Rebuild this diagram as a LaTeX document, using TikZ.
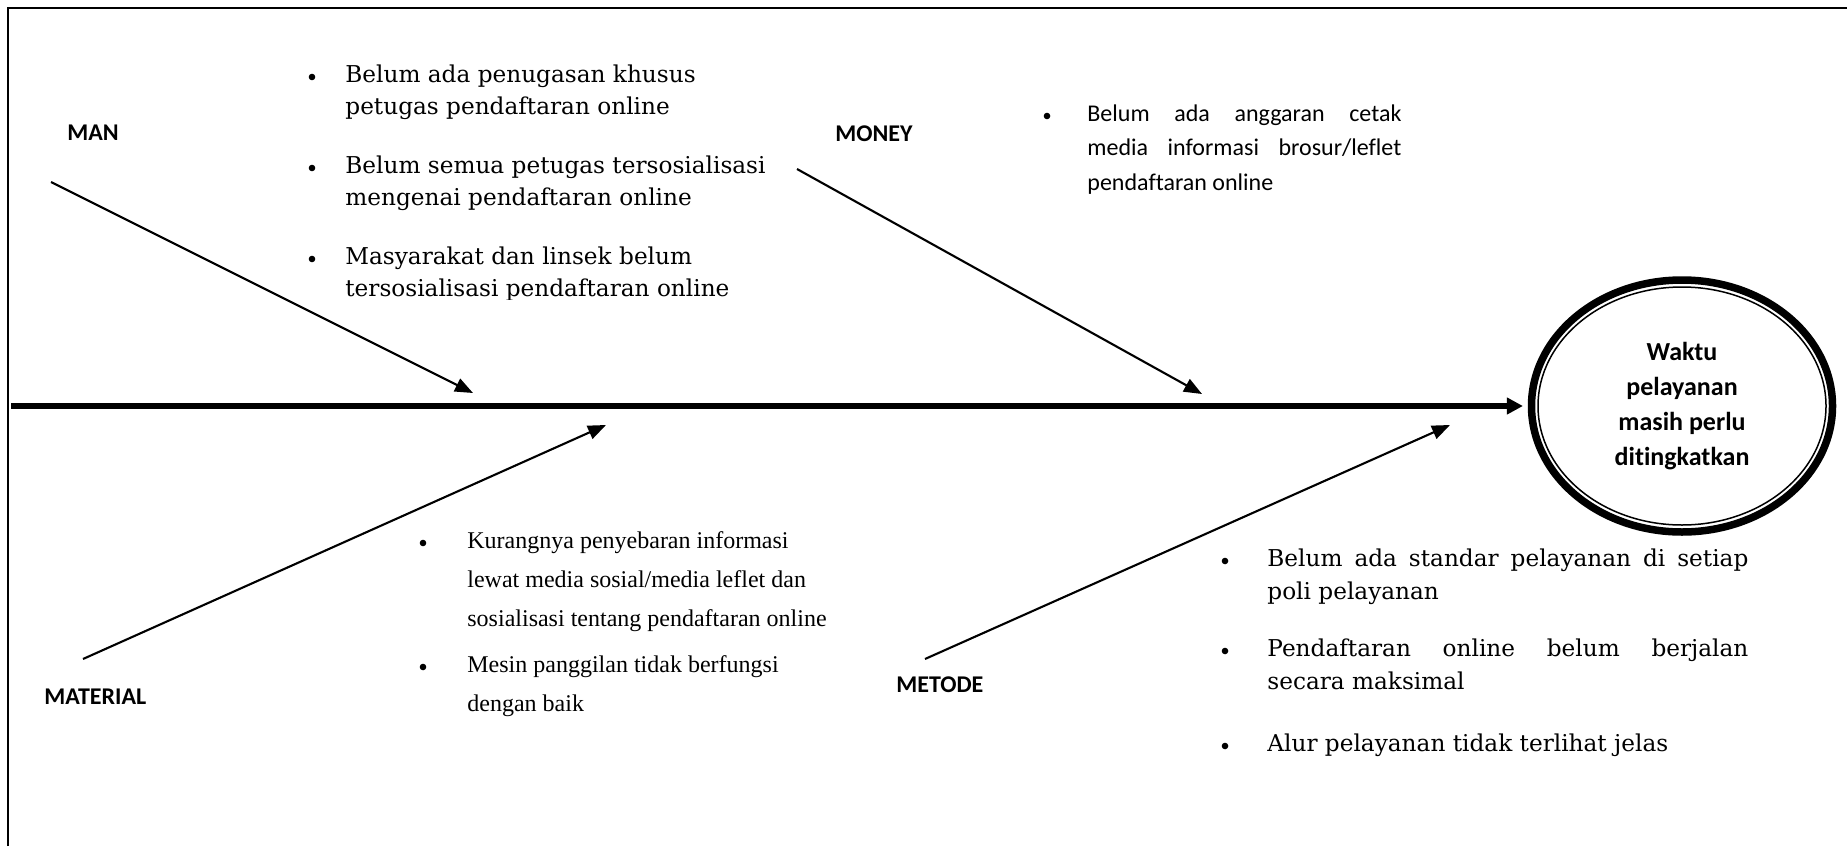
\documentclass[tikz,border=0pt]{standalone}
\usepackage{fontspec}
\setmainfont{DejaVu Serif}
\newfontfamily\calibri[Ligatures=NoCommon]{Carlito}
\newfontfamily\timesfont{Liberation Serif}
\usetikzlibrary{arrows.meta,shapes.geometric}

\tikzset{
  frame/.style={line width=1.1pt},
  spine/.style={line width=2.75pt,-{Triangle[length=8pt,width=8pt]},shorten >=2.4pt},
  bone/.style={line width=1.05pt,-{Triangle[length=9pt,width=7pt]}},
  cat/.style={anchor=west,inner sep=0pt,font={\calibri\bfseries\fontsize{12pt}{14pt}\selectfont}},
  effect/.style={ellipse,draw,line width=3.75pt,minimum width=150.5pt,minimum height=126pt,
    inner sep=0pt,align=center,font={\calibri\bfseries\fontsize{13pt}{17.5pt}\selectfont}},
  mantext/.style={anchor=base west,inner sep=0pt,align=left,font={\fontsize{11.6pt}{16pt}\selectfont}},
  mettext/.style={anchor=base west,inner sep=0pt,align=left,font={\fontsize{11.6pt}{16.5pt}\selectfont}},
  moneytext/.style={anchor=base west,inner sep=0pt,align=left,font={\calibri\fontsize{12pt}{17.25pt}\selectfont}},
  mattext/.style={anchor=base west,inner sep=0pt,align=left,font={\timesfont\fontsize{12pt}{19.5pt}\selectfont}}
}

\begin{document}
\begin{tikzpicture}[x=0.5pt,y=-0.5pt]
  \useasboundingbox (0,0) rectangle (1847,846);
  \draw[frame] (8,846) -- (8,8) -- (1847,8);

  % head of the fish
  \node[effect] (effect) at (1682,406) {Waktu\\pelayanan\\masih perlu\\ditingkatkan};
  \draw[line width=0.75pt] (effect.center) ellipse [x radius=144, y radius=119];

  \coordinate (spinetail) at (11,406);
  \draw[spine] (spinetail) -- (effect);

  % categories
  \node[cat] (man) at (67,133) {MAN};
  \node[cat] (money) at (835,134) {MONEY};
  \node[cat] (material) at (44,697) {MATERIAL};
  \node[cat] (metode) at (896,685) {METODE};

  \coordinate (mantail) at (51,182);
  \coordinate (manhead) at (473,393);
  \coordinate (moneytail) at (797,169);
  \coordinate (moneyhead) at (1202,394);
  \coordinate (materialtail) at (83,659);
  \coordinate (materialhead) at (606,425);
  \coordinate (metodetail) at (925,659);
  \coordinate (metodehead) at (1450,425);

  \draw[bone] (mantail) -- (manhead);
  \draw[bone] (moneytail) -- (moneyhead);
  \draw[bone] (materialtail) -- (materialhead);
  \draw[bone] (metodetail) -- (metodehead);

  % causes: man (nodes sit on the base of their last line)
  \begin{scope}
    \clip (290,30) rectangle (800,299);
    \fill (312,77) circle (3.3);
    \fill (312,168) circle (3.3);
    \fill (312,259) circle (3.3);
    \node[mantext] (man1) at (345,114) {Belum ada penugasan khusus\\petugas pendaftaran online};
    \node[mantext] (man2) at (345,205) {Belum semua petugas tersosialisasi\\mengenai pendaftaran online};
    \node[mantext] (man3) at (345,296) {Masyarakat dan linsek belum\\tersosialisasi pendaftaran online};
  \end{scope}

  % causes: money
  \begin{scope}
    \clip (1030,90) rectangle (1420,193);
    \fill (1047,116) circle (3.3);
    \node[moneytext] (money1) at (1087,190) {\makebox[157pt][s]{Belum ada anggaran cetak}\\
      \makebox[157pt][s]{media informasi brosur/leflet}\\pendaftaran online};
  \end{scope}

  % causes: material
  \fill (423,543) circle (3.3);
  \fill (423,667) circle (3.3);
  \node[mattext] (material1) at (467,626) {Kurangnya penyebaran informasi\\lewat media sosial/media leflet dan\\sosialisasi tentang pendaftaran online};
  \node[mattext] (material2) at (467,711) {Mesin panggilan tidak berfungsi\\dengan baik};

  % causes: metode
  \fill (1225,561) circle (3.3);
  \fill (1225,651) circle (3.3);
  \fill (1225,746) circle (3.3);
  \node[mettext] (metode1) at (1267,599) {\makebox[240.5pt][s]{Belum ada standar pelayanan di setiap}\\poli pelayanan};
  \node[mettext] (metode2) at (1267,689) {\makebox[240.5pt][s]{Pendaftaran online belum berjalan}\\secara maksimal};
  \node[mettext] (metode3) at (1267,751) {Alur pelayanan tidak terlihat jelas};
\end{tikzpicture}
\end{document}
